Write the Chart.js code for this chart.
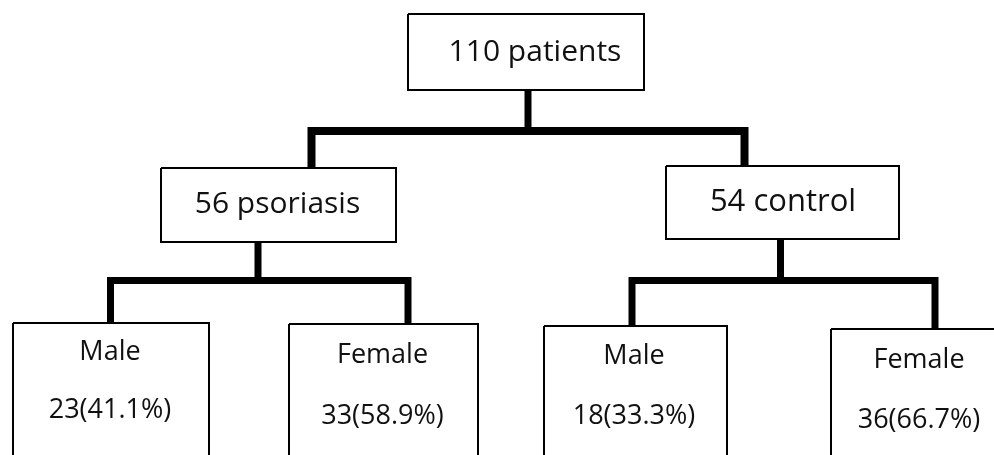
<!DOCTYPE html>
<html>
<head>
<meta charset="utf-8">
<title>Patients flow chart</title>
<script src="https://cdn.jsdelivr.net/npm/chart.js@4/dist/chart.umd.min.js"></script>
<style>
  html, body { margin: 0; padding: 0; background: #fff; }
  #wrap { width: 994px; height: 455px; position: relative; }
</style>
</head>
<body>
<div id="wrap"><canvas id="flowChart"></canvas></div>
<script>
// Study numbers
const totalPatients = 110;
const groupNames = ['psoriasis', 'control'];
const groupCounts = [56, 54];
const sexNames = ['Male', 'Female'];
const psoriasisSex = [23, 33];
const psoriasisPct = [41.1, 58.9];
const controlSex = [18, 36];
const controlPct = [33.3, 66.7];

// Layout of the boxes, in axis units (left, right, top, bottom)
const boxTop = [408, 644, 14, 90];
const boxGroups = [[161, 396, 168, 242], [666, 899, 166, 239]];
const boxLeaves = [
  [[13, 209, 323, 480], [289, 478, 324, 480]],
  [[544, 727, 326, 480], [831, 1010, 329, 480]]
];

// Connectors: stem from parent, then bar with two drops
const stemTop = { x: 528, y1: 90, y2: 131 };
const barTop = { x1: 311.5, x2: 744.5, y: 131, y1: 168, y2: 166 };
const stemGroups = [{ x: 258, y1: 242, y2: 280.5 }, { x: 780.5, y1: 239, y2: 280.5 }];
const barGroups = [
  { x1: 110.5, x2: 408, y: 280.5, y1: 323, y2: 324 },
  { x1: 632, x2: 935, y: 280.5, y1: 326, y2: 329 }
];

// Text placement (centre x, alphabetic baseline y)
const topText = { x: 535, y: 61 };
const groupText = [{ x: 277.5, y: 213 }, { x: 783, y: 211 }];
const leafText = [
  [{ x: 110, y: 360, y2: 418 }, { x: 382.5, y: 363, y2: 424 }],
  [{ x: 634, y: 364, y2: 424 }, { x: 919, y: 368, y2: 428 }]
];

function boxPoints(b) {
  return [
    { x: b[0], y: b[2] }, { x: b[1], y: b[2] },
    { x: b[1], y: b[3] }, { x: b[0], y: b[3] },
    { x: b[0], y: b[2] }
  ];
}

function outline(b) {
  return {
    data: boxPoints(b),
    showLine: true,
    borderColor: '#000',
    borderWidth: 2,
    borderJoinStyle: 'miter',
    pointRadius: 0,
    fill: false
  };
}

function connector(points, width) {
  return {
    data: points,
    showLine: true,
    borderColor: '#000',
    borderWidth: width,
    borderJoinStyle: 'miter',
    borderCapStyle: 'butt',
    pointRadius: 0,
    fill: false
  };
}

const datasets = [];
datasets.push(outline(boxTop));
boxGroups.forEach(b => datasets.push(outline(b)));
boxLeaves.forEach(pair => pair.forEach(b => datasets.push(outline(b))));

datasets.push(connector([{ x: stemTop.x, y: stemTop.y1 }, { x: stemTop.x, y: stemTop.y2 + 4 }], 7));
datasets.push(connector([
  { x: barTop.x1, y: barTop.y1 }, { x: barTop.x1, y: barTop.y },
  { x: barTop.x2, y: barTop.y }, { x: barTop.x2, y: barTop.y2 }
], 8));
stemGroups.forEach(s => datasets.push(connector([{ x: s.x, y: s.y1 }, { x: s.x, y: s.y2 + 3 }], 7)));
barGroups.forEach(b => datasets.push(connector([
  { x: b.x1, y: b.y1 }, { x: b.x1, y: b.y },
  { x: b.x2, y: b.y }, { x: b.x2, y: b.y2 }
], 7)));

// Writes the node labels through the chart scales
const labelPlugin = {
  id: 'nodeLabels',
  afterDatasetsDraw(chart) {
    const ctx = chart.ctx;
    const xs = chart.scales.x;
    const ys = chart.scales.y;
    const put = (text, pos, y, size) => {
      ctx.font = size + 'px "Open Sans", "Noto Sans", sans-serif';
      ctx.fillText(text, xs.getPixelForValue(pos.x), ys.getPixelForValue(y));
    };
    ctx.save();
    ctx.fillStyle = '#111';
    ctx.textAlign = 'center';
    ctx.textBaseline = 'alphabetic';

    put(totalPatients + ' patients', topText, topText.y, 30);
    groupNames.forEach((name, i) => {
      put(groupCounts[i] + ' ' + name, groupText[i], groupText[i].y, i === 1 ? 31 : 30);
    });
    const counts = [psoriasisSex, controlSex];
    const pcts = [psoriasisPct, controlPct];
    counts.forEach((row, g) => {
      row.forEach((n, j) => {
        const pos = leafText[g][j];
        put(sexNames[j], pos, pos.y, 27);
        put(n + '(' + pcts[g][j].toFixed(1) + '%)', pos, pos.y2, 27);
      });
    });
    ctx.restore();
  }
};

const chart = new Chart(document.getElementById('flowChart').getContext('2d'), {
  type: 'scatter',
  data: { datasets: datasets },
  options: {
    responsive: true,
    maintainAspectRatio: false,
    animation: false,
    layout: { padding: 0 },
    scales: {
      x: { type: 'linear', min: 0, max: 994, display: false },
      y: { type: 'linear', min: 0, max: 455, reverse: true, display: false }
    },
    plugins: {
      legend: { display: false },
      tooltip: { enabled: false }
    }
  },
  plugins: [labelPlugin]
});
</script>
</body>
</html>
